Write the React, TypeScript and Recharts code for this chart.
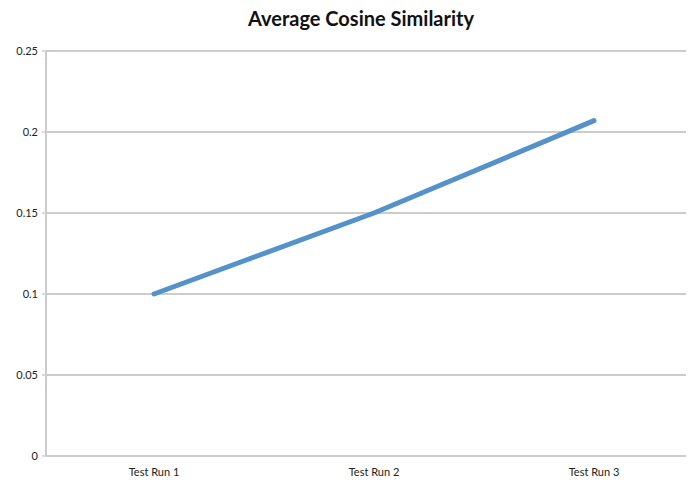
import React from 'react';
import { LineChart, Line, XAxis, YAxis, CartesianGrid } from 'recharts';

const categories = ['Test Run 1', 'Test Run 2', 'Test Run 3'];
const similarity = [0.1, 0.15, 0.207];
const yTicks = [0, 0.05, 0.1, 0.15, 0.2, 0.25];

const data = categories.map((name, i) => ({ name, value: similarity[i] }));

const font = 'Lato, "Open Sans", sans-serif';

export default function App() {
  return (
    <div style={{ margin: -8, width: 694, height: 484, overflow: 'hidden', position: 'relative', background: '#fff' }}>
      <div
        style={{
          position: 'absolute',
          top: 6,
          left: 0,
          width: 722,
          textAlign: 'center',
          fontFamily: font,
          fontWeight: 700,
          fontSize: 20,
          color: '#111',
        }}
      >
        Average Cosine Similarity
      </div>
      <LineChart width={712} height={484} data={data} margin={{ top: 51, right: 8, bottom: 0, left: 0 }}>
        <CartesianGrid vertical={false} stroke="#cccccc" strokeWidth={2} />
        <XAxis
          dataKey="name"
          height={28}
          padding={{ left: 108, right: 110 }}
          axisLine={{ stroke: '#cccccc', strokeWidth: 2 }}
          tickLine={false}
          tickMargin={6}
          tick={{ fill: '#222', fontSize: 11, fontFamily: font }}
        />
        <YAxis
          width={46}
          domain={[0, 0.25]}
          ticks={yTicks}
          interval={0}
          axisLine={{ stroke: '#cccccc', strokeWidth: 2 }}
          tickLine={{ stroke: '#cccccc', strokeWidth: 1.5 }}
          tickSize={4}
          tickMargin={4}
          tick={{ fill: '#222', fontSize: 11, fontFamily: font }}
        />
        <Line
          type="linear"
          dataKey="value"
          stroke="#5592c9"
          strokeWidth={5}
          strokeLinecap="round"
          dot={false}
          activeDot={false}
          isAnimationActive={false}
        />
      </LineChart>
    </div>
  );
}
